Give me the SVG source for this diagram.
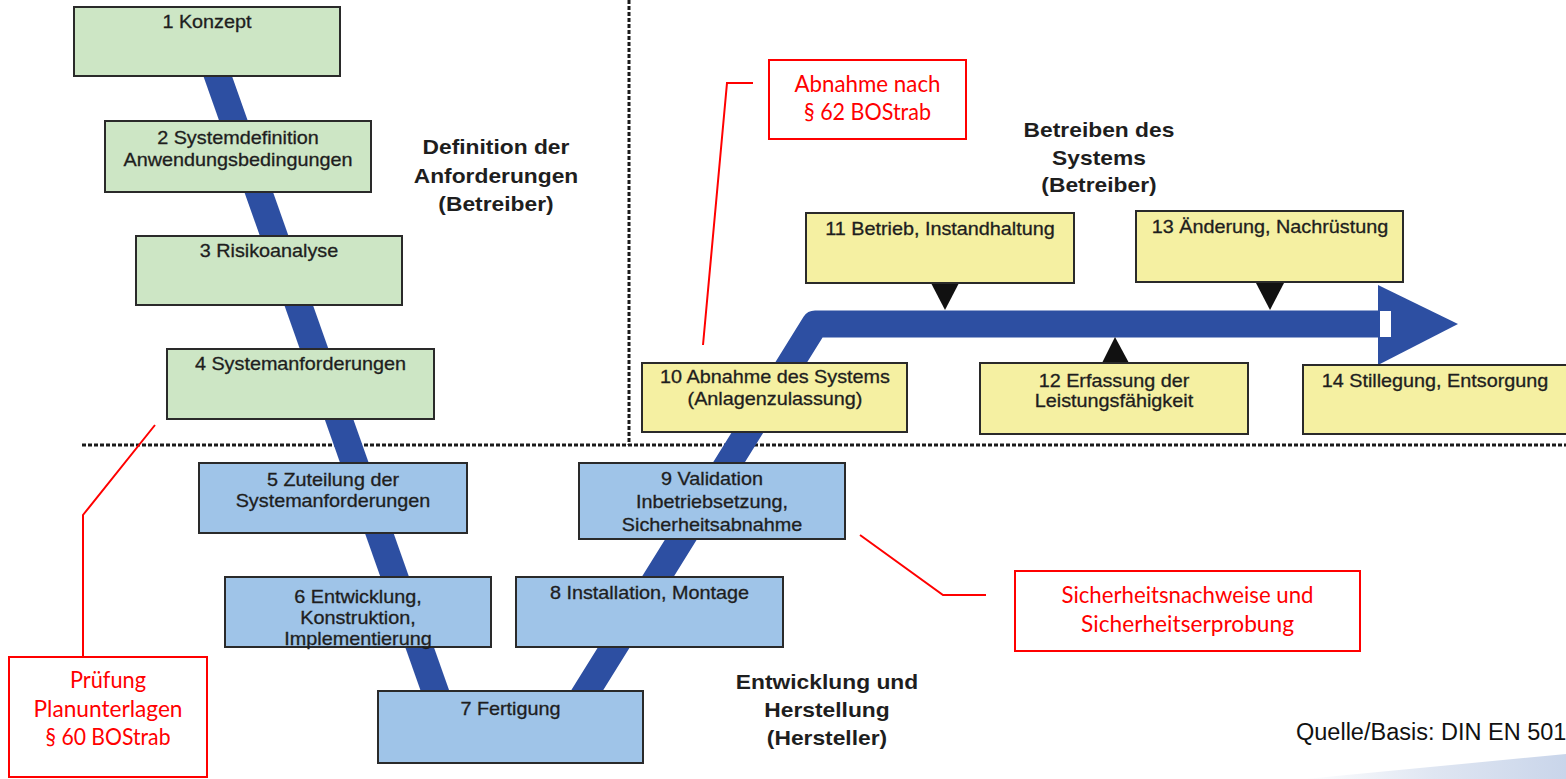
<svg xmlns="http://www.w3.org/2000/svg" width="1566" height="779" viewBox="0 0 1566 779">
<defs>
<style>
.box { stroke:#2a2a2a; stroke-width:2; }
.g { fill:#cde6c5; }
.b { fill:#9fc4e8; }
.y { fill:#f5f0a2; }
.lbl { font-family:"Liberation Sans", Arial, sans-serif; font-size:18px; fill:#1e1e1e; stroke:#1e1e1e; stroke-width:0.3; text-anchor:middle; transform-box:fill-box; transform-origin:center; transform:scaleX(1.1); }
.sec { font-family:"Liberation Sans", Arial, sans-serif; font-size:20px; font-weight:bold; fill:#1e1e1e; text-anchor:middle; transform-box:fill-box; transform-origin:center; transform:scaleX(1.14); }
.note { font-family:Lato, "Liberation Sans", sans-serif; font-size:23px; fill:#ff0000; text-anchor:middle; }
.nbox { fill:#ffffff; stroke:#ff0000; stroke-width:2; }
.lead { fill:none; stroke:#ff0000; stroke-width:2; }
.band { fill:none; stroke:#2d4fa2; stroke-width:27; stroke-linejoin:round; }
.tri { fill:#111111; }
.sep { fill:none; stroke:#1a1a1a; stroke-width:3; stroke-dasharray:4 2; }
.src { font-family:"Liberation Sans", Arial, sans-serif; font-size:23.5px; fill:#111111; }
</style>
<linearGradient id="swoosh" x1="1300" y1="0" x2="1566" y2="0" gradientUnits="userSpaceOnUse">
<stop offset="0" stop-color="#ffffff"/>
<stop offset="0.5" stop-color="#dfe6f2"/>
<stop offset="1" stop-color="#c9d5ea"/>
</linearGradient>
</defs>

<rect width="1566" height="779" fill="#ffffff"/>

<!-- phase separators -->
<g id="separators">
<path class="sep" d="M82,445 H1566"/>
<path class="sep" d="M629,0 V445"/>
</g>

<!-- process flow band, arrow and markers -->
<g id="connectors">
<path class="band" d="M212,60 L440,705"/>
<path class="band" d="M578,705 L815,324 L1380,324"/>
<polygon fill="#2d4fa2" points="1378,285 1378,365 1458,324"/>
<rect x="1380" y="311" width="11" height="26" fill="#ffffff"/>
<polygon class="tri" points="931,283 959,283 945,310"/>
<polygon class="tri" points="1256,283 1284,283 1270,310"/>
<polygon class="tri" points="1102,363 1129,363 1115,337"/>
</g>

<!-- requirement phase -->
<g id="n1"><rect class="box g" x="74" y="7" width="266" height="69"/>
<text class="lbl" x="207" y="28">1 Konzept</text></g>
<g id="n2"><rect class="box g" x="105" y="121" width="266" height="71"/>
<text class="lbl" x="238" y="144">2 Systemdefinition</text>
<text class="lbl" x="238" y="166">Anwendungsbedingungen</text></g>
<g id="n3"><rect class="box g" x="136" y="236" width="266" height="69"/>
<text class="lbl" x="269" y="257">3 Risikoanalyse</text></g>
<g id="n4"><rect class="box g" x="167" y="349" width="267" height="70"/>
<text class="lbl" x="300.5" y="370">4 Systemanforderungen</text></g>

<!-- development phase -->
<g id="n5"><rect class="box b" x="199" y="463" width="268" height="70"/>
<text class="lbl" x="333" y="486">5 Zuteilung der</text>
<text class="lbl" x="333" y="507">Systemanforderungen</text></g>
<g id="n6"><rect class="box b" x="225" y="577" width="266" height="70"/>
<text class="lbl" x="358" y="603">6 Entwicklung,</text>
<text class="lbl" x="358" y="624">Konstruktion,</text>
<text class="lbl" x="358" y="645">Implementierung</text></g>
<g id="n7"><rect class="box b" x="378" y="691" width="265" height="72"/>
<text class="lbl" x="510.5" y="715">7 Fertigung</text></g>
<g id="n8"><rect class="box b" x="516" y="577" width="267" height="70"/>
<text class="lbl" x="649.5" y="599">8 Installation, Montage</text></g>
<g id="n9"><rect class="box b" x="579" y="463" width="266" height="76"/>
<text class="lbl" x="712" y="485">9 Validation</text>
<text class="lbl" x="712" y="508">Inbetriebsetzung,</text>
<text class="lbl" x="712" y="531">Sicherheitsabnahme</text></g>

<!-- operation phase -->
<g id="n10"><rect class="box y" x="642" y="363" width="265" height="69"/>
<text class="lbl" x="775" y="383">10 Abnahme des Systems</text>
<text class="lbl" x="775" y="405">(Anlagenzulassung)</text></g>
<g id="n11"><rect class="box y" x="806" y="213" width="268" height="70"/>
<text class="lbl" x="940" y="235">11 Betrieb, Instandhaltung</text></g>
<g id="n12"><rect class="box y" x="980" y="363" width="268" height="71"/>
<text class="lbl" x="1114" y="387">12 Erfassung der</text>
<text class="lbl" x="1114" y="407">Leistungsfähigkeit</text></g>
<g id="n13"><rect class="box y" x="1136" y="211" width="267" height="71"/>
<text class="lbl" x="1270" y="233">13 Änderung, Nachrüstung</text></g>
<g id="n14"><rect class="box y" x="1303" y="365" width="270" height="69"/>
<text class="lbl" x="1435" y="387">14 Stillegung, Entsorgung</text></g>

<!-- phase titles -->
<g id="phase-requirements">
<text class="sec" x="496" y="154">Definition der</text>
<text class="sec" x="496" y="183">Anforderungen</text>
<text class="sec" x="496" y="211">(Betreiber)</text>
</g>
<g id="phase-operation">
<text class="sec" x="1099" y="137">Betreiben des</text>
<text class="sec" x="1099" y="165">Systems</text>
<text class="sec" x="1099" y="192">(Betreiber)</text>
</g>
<g id="phase-development">
<text class="sec" x="827" y="689">Entwicklung und</text>
<text class="sec" x="827" y="717">Herstellung</text>
<text class="sec" x="827" y="745">(Hersteller)</text>
</g>

<!-- approval annotations -->
<g id="note-abnahme">
<polyline class="lead" points="753,83 727,83 703,345"/>
<rect class="nbox" x="769" y="60" width="197" height="79"/>
<text class="note" x="867.5" y="92" textLength="146" lengthAdjust="spacingAndGlyphs">Abnahme nach</text>
<text class="note" x="867.5" y="120" textLength="127" lengthAdjust="spacingAndGlyphs">§ 62 BOStrab</text>
</g>
<g id="note-pruefung">
<polyline class="lead" points="83,657 83,515 155,425"/>
<rect class="nbox" x="9" y="657" width="198" height="120"/>
<text class="note" x="108" y="688" textLength="76" lengthAdjust="spacingAndGlyphs">Prüfung</text>
<text class="note" x="108" y="717" textLength="149" lengthAdjust="spacingAndGlyphs">Planunterlagen</text>
<text class="note" x="108" y="745" textLength="125" lengthAdjust="spacingAndGlyphs">§ 60 BOStrab</text>
</g>
<g id="note-sicherheit">
<polyline class="lead" points="860,535 943,595 986,595"/>
<rect class="nbox" x="1015" y="571" width="345" height="80"/>
<text class="note" x="1187.5" y="603" textLength="252" lengthAdjust="spacingAndGlyphs">Sicherheitsnachweise und</text>
<text class="note" x="1187.5" y="632" textLength="213" lengthAdjust="spacingAndGlyphs">Sicherheitserprobung</text>
</g>

<!-- source line and corner decoration -->
<path d="M1305,779 L1566,754 L1566,779 Z" fill="url(#swoosh)"/>
<text class="src" x="1296" y="740">Quelle/Basis: DIN EN 501</text>
</svg>
